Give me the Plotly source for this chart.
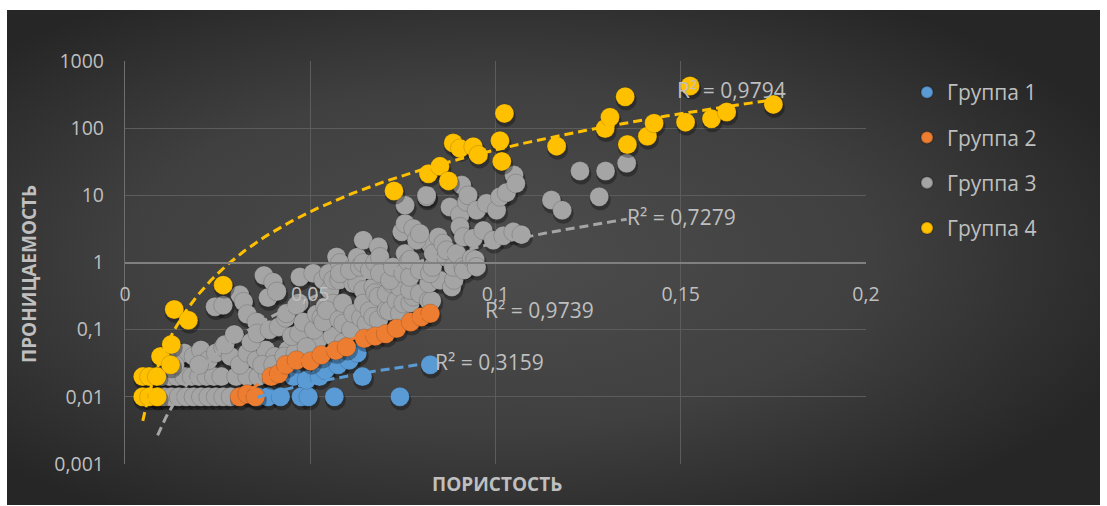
import base64
import numpy as np
import plotly.graph_objects as go

# ---------------- data: porosity (fraction) vs permeability ----------------
g1_x = [0.0358, 0.0386, 0.0420, 0.0475, 0.0495, 0.0565, 0.0742, 0.0455, 0.0490,
        0.0525, 0.0540, 0.0575, 0.0605, 0.0627, 0.0641, 0.0824]
g1_y = [0.010, 0.010, 0.010, 0.010, 0.010, 0.010, 0.010, 0.020, 0.018,
        0.020, 0.025, 0.030, 0.035, 0.045, 0.020, 0.030]

g2_x = [0.0309, 0.0330, 0.0352, 0.0395, 0.0415, 0.0434, 0.0463, 0.0501, 0.0530,
        0.0569, 0.0598, 0.0646, 0.0675, 0.0704, 0.0733, 0.0771, 0.0800, 0.0824]
g2_y = [0.010, 0.011, 0.010, 0.020, 0.022, 0.030, 0.035, 0.034, 0.042,
        0.049, 0.055, 0.074, 0.080, 0.087, 0.104, 0.130, 0.155, 0.174]

g3_x = [
    # bottom rows
    0.0088, 0.0105, 0.0125, 0.0145, 0.0165, 0.0185, 0.0205, 0.0225, 0.0245, 0.0265, 0.0285,
    0.0100, 0.0120, 0.0140, 0.0160, 0.0180, 0.0200, 0.0220, 0.0240, 0.0260, 0.0300, 0.0330,
    0.0360, 0.0385,
    0.0125, 0.0135, 0.0160, 0.0185, 0.0205, 0.0225, 0.0245, 0.0265, 0.0285, 0.0310, 0.0330,
    0.0355, 0.0380, 0.0405, 0.0440, 0.0470, 0.0135, 0.0200,
    0.0370, 0.0400, 0.0430, 0.0460, 0.0500, 0.0520, 0.0560, 0.0590,
    # lower-middle cloud
    0.0243, 0.0265, 0.0270, 0.0295, 0.0310, 0.0320, 0.0330, 0.0340, 0.0355, 0.0357, 0.0375,
    0.0386, 0.0390, 0.0400, 0.0410, 0.0415, 0.0434, 0.0436, 0.0450, 0.0470, 0.0463, 0.0470,
    0.0472, 0.0481, 0.0490, 0.0508, 0.0510, 0.0517, 0.0530, 0.0535, 0.0535, 0.0540, 0.0550,
    0.0553, 0.0562, 0.0562, 0.0544, 0.0578, 0.0578, 0.0588, 0.0589, 0.0610, 0.0616, 0.0616,
    0.0627, 0.0637, 0.0643, 0.0643, 0.0652, 0.0660, 0.0670, 0.0670, 0.0675, 0.0684, 0.0685,
    0.0706, 0.0706, 0.0713, 0.0720, 0.0733, 0.0742, 0.0742, 0.0751, 0.0770, 0.0778, 0.0769,
    0.0796, 0.0820, 0.0828, 0.0820, 0.0850, 0.0882, 0.0888,
    # middle band
    0.0571, 0.0580, 0.0580, 0.0607, 0.0627, 0.0634, 0.0643, 0.0643, 0.0661, 0.0675, 0.0684,
    0.0688, 0.0688, 0.0715, 0.0723, 0.0751, 0.0756, 0.0765, 0.0769, 0.0770, 0.0796, 0.0823,
    0.0823, 0.0830, 0.0832, 0.0846, 0.0859, 0.0867, 0.0868, 0.0886, 0.0895, 0.0913, 0.0915,
    0.0936, 0.0945, 0.0949,
    # upper band
    0.0747, 0.0756, 0.0756, 0.0778, 0.0787, 0.0796, 0.0814, 0.0814, 0.0877, 0.0904, 0.0904,
    0.0909, 0.0913, 0.0922, 0.0926, 0.0940, 0.0949, 0.0967, 0.0976, 0.0994, 0.1003, 0.1012,
    0.1021, 0.1030, 0.1048, 0.1050, 0.1055, 0.1070, 0.1151, 0.1180, 0.1228, 0.1280, 0.1297,
    0.1354,
]
g3_y = [
    0.010, 0.010, 0.010, 0.010, 0.010, 0.010, 0.010, 0.010, 0.010, 0.010, 0.010,
    0.020, 0.020, 0.020, 0.020, 0.020, 0.020, 0.020, 0.020, 0.020, 0.020, 0.020,
    0.020, 0.022,
    0.050, 0.040, 0.045, 0.040, 0.050, 0.035, 0.045, 0.055, 0.040, 0.030, 0.045,
    0.035, 0.050, 0.040, 0.050, 0.055, 0.030, 0.030,
    0.030, 0.030, 0.040, 0.045, 0.060, 0.070, 0.080, 0.065,
    0.22, 0.23, 0.060, 0.085, 0.33, 0.26, 0.17, 0.065, 0.13, 0.088, 0.64,
    0.30, 0.10, 0.51, 0.37, 0.11, 0.15, 0.175, 0.080, 0.25, 0.23, 0.088,
    0.61, 0.13, 0.055, 0.69, 0.10, 0.17, 0.15, 0.55, 0.13, 0.22, 0.69,
    0.39, 0.55, 0.245, 0.195, 0.14, 0.55, 0.25, 0.123, 0.10, 0.174, 0.486,
    0.49, 0.15, 0.39, 0.245, 0.123, 0.19, 0.155, 0.43, 0.35, 0.31, 0.14,
    0.195, 0.345, 0.19, 0.49, 0.27, 0.174, 0.43, 0.245, 0.25, 0.31, 0.39,
    0.345, 0.27, 0.27, 0.49, 0.545, 0.43, 0.55,
    1.21, 0.985, 0.69, 0.77, 1.20, 0.86, 0.985, 2.15, 0.77, 1.00, 1.71,
    1.21, 0.69, 0.545, 0.86, 0.69, 1.36, 1.02, 0.61, 1.10, 0.77, 0.69,
    1.92, 0.86, 1.36, 2.40, 1.92, 1.20, 1.52, 0.86, 1.36, 0.86, 0.77,
    1.15, 1.10, 0.86,
    2.86, 3.8, 7.1, 3.2, 2.15, 2.7, 9.5, 10.0, 6.7, 5.1, 3.4,
    14.2, 2.4, 8.0, 10.0, 2.3, 6.0, 3.0, 7.6, 2.15, 6.0, 9.5,
    2.5, 11.0, 2.86, 20.0, 15.0, 2.6, 8.5, 6.0, 23.0, 9.5, 23.0,
    30.0,
]

g4_x = [0.0048, 0.0065, 0.0086, 0.0048, 0.0065, 0.0087, 0.0096, 0.0123, 0.0125, 0.0133,
        0.0171, 0.0265, 0.0726, 0.0819, 0.0850, 0.0873, 0.0886, 0.0904, 0.0940, 0.0954,
        0.1012, 0.1017, 0.1024, 0.1165, 0.1296, 0.1309, 0.1350, 0.1356, 0.1410, 0.1428,
        0.1513, 0.1525, 0.1583, 0.1624, 0.1750]
g4_y = [0.020, 0.020, 0.020, 0.010, 0.010, 0.010, 0.040, 0.030, 0.060, 0.200,
        0.138, 0.46, 11.6, 21.0, 27.0, 16.4, 60.0, 50.0, 53.0, 40.0,
        65.0, 32.0, 166.0, 54.0, 99.0, 145.0, 294.0, 57.0, 76.0, 118.0,
        123.0, 424.0, 138.0, 174.0, 226.0]

group_names = ["Группа 1", "Группа 2", "Группа 3", "Группа 4"]
group_colors = ["#5B9BD5", "#ED7D31", "#A5A5A5", "#FFC000"]

# power trendlines  k = a * phi**b  and their R^2
trend_a = [1.08, 254.0, 995.0, 54600.0]
trend_b = [1.41, 2.92, 2.71, 3.06]
trend_r2 = ["0,3159", "0,9739", "0,7279", "0,9794"]

x_ticks = [0, 0.05, 0.1, 0.15, 0.2]
x_tick_text = ["0", "0,05", "0,1", "0,15", "0,2"]
y_ticks = [0.001, 0.01, 0.1, 1, 10, 100, 1000]
y_tick_text = ["0,001", "0,01", "0,1", "1", "10", "100", "1000"]

# ---------------- geometry ----------------
W, H = 1107, 506
ML, MR, MT, MB = 125, 241, 61, 42
PW, PH = W - ML - MR, H - MT - MB
px_per_x = PW / 0.2
px_per_decade = PH / 6.0

FONT = "Open Sans, Noto Sans, DejaVu Sans, sans-serif"
TXT = "#bfbfbf"

xs_all = [g1_x, g2_x, g3_x, g4_x]
ys_all = [g1_y, g2_y, g3_y, g4_y]

fig = go.Figure()

# drawing order of the point clouds (legend keeps 1..4)
draw_order = [2, 0, 1, 3]
for i in draw_order:
    x = np.array(xs_all[i])
    y = np.array(ys_all[i])
    # soft drop shadow under each marker
    fig.add_trace(go.Scatter(
        x=x + 1.0 / px_per_x, y=y * 10 ** (-3.0 / px_per_decade),
        mode="markers", hoverinfo="skip", showlegend=False,
        marker=dict(size=21, color="rgba(0,0,0,0.30)", line=dict(width=0)),
    ))
    fig.add_trace(go.Scatter(
        x=x, y=y, mode="markers", name=group_names[i],
        legendgroup=group_names[i], legendrank=i + 1,
        marker=dict(size=19, color=group_colors[i],
                    line=dict(width=0.8, color="rgba(0,0,0,0.18)")),
    ))

# dashed power trendlines over the markers
for i in range(4):
    x = np.array(xs_all[i])
    xt = np.geomspace(x.min(), x.max(), 200)
    yt = trend_a[i] * xt ** trend_b[i]
    fig.add_trace(go.Scatter(
        x=xt, y=yt, mode="lines", hoverinfo="skip", showlegend=False,
        line=dict(color=group_colors[i], width=3, dash="9px,5px"),
    ))

# background panel with a soft radial gradient
bx0, by0, bx1, by1 = 7, 10, 1100, 505
svg = (
    f"<svg xmlns='http://www.w3.org/2000/svg' width='{bx1 - bx0}' height='{by1 - by0}'>"
    "<defs><radialGradient id='g' cx='0.45' cy='0.5' r='0.62'>"
    "<stop offset='0' stop-color='#4d4d4d'/><stop offset='0.55' stop-color='#404040'/>"
    "<stop offset='1' stop-color='#262626'/></radialGradient></defs>"
    "<rect width='100%' height='100%' fill='url(#g)'/></svg>"
)
bg_src = "data:image/svg+xml;base64," + base64.b64encode(svg.encode()).decode()


def px2paper_x(px):
    return (px - ML) / PW


def px2paper_y(py):
    return (H - MB - py) / PH


annotations = []
# R^2 labels
r2_pos = [(433, 362), (483, 310), (625, 217), (675, 90)]
for i in range(4):
    annotations.append(dict(
        x=px2paper_x(r2_pos[i][0]), y=px2paper_y(r2_pos[i][1]), xref="paper", yref="paper",
        xanchor="left", yanchor="middle", showarrow=False,
        text=f"R² = {trend_r2[i]}", font=dict(family=FONT, size=21, color=TXT),
    ))
# axis titles
annotations.append(dict(
    x=px2paper_x(497), y=px2paper_y(484), xref="paper", yref="paper",
    xanchor="center", yanchor="middle",
    showarrow=False, text="<b>ПОРИСТОСТЬ</b>",
    font=dict(family=FONT, size=19, color=TXT),
))
annotations.append(dict(
    x=px2paper_x(29), y=px2paper_y(274), xref="paper", yref="paper",
    xanchor="center", yanchor="middle",
    showarrow=False, textangle=-90, text="<b>ПРОНИЦАЕМОСТЬ</b>",
    font=dict(family=FONT, size=19, color=TXT),
))

fig.update_layout(
    width=W, height=H,
    margin=dict(l=ML, r=MR, t=MT, b=MB),
    paper_bgcolor="white",
    plot_bgcolor="rgba(0,0,0,0)",
    images=[dict(
        source=bg_src, xref="paper", yref="paper",
        x=px2paper_x(bx0), y=px2paper_y(by0),
        sizex=(bx1 - bx0) / PW, sizey=(by1 - by0) / PH,
        xanchor="left", yanchor="top", sizing="stretch", layer="below",
    )],
    xaxis=dict(
        range=[0, 0.2], tickvals=x_ticks, ticktext=x_tick_text,
        anchor="free", position=0.5,
        showgrid=True, gridcolor="#5c5c5c", gridwidth=1,
        showline=True, linecolor="#808080", linewidth=1.5,
        zeroline=False, ticks="", ticklabelstandoff=14,
        tickfont=dict(family=FONT, size=19.5, color=TXT),
    ),
    yaxis=dict(
        type="log", range=[-3, 3], tickvals=y_ticks, ticktext=y_tick_text,
        showgrid=True, gridcolor="#5c5c5c", gridwidth=1,
        showline=True, linecolor="#6e6e6e", linewidth=1.2,
        zeroline=False, ticks="", ticklabelstandoff=16,
        tickfont=dict(family=FONT, size=19.5, color=TXT),
    ),
    legend=dict(
        x=px2paper_x(907), y=px2paper_y(72), xanchor="left", yanchor="top",
        bgcolor="rgba(0,0,0,0)", font=dict(family=FONT, size=21, color=TXT),
        tracegroupgap=15, itemsizing="constant",
    ),
    annotations=annotations,
    showlegend=True,
)

fig.write_html("out.html")
